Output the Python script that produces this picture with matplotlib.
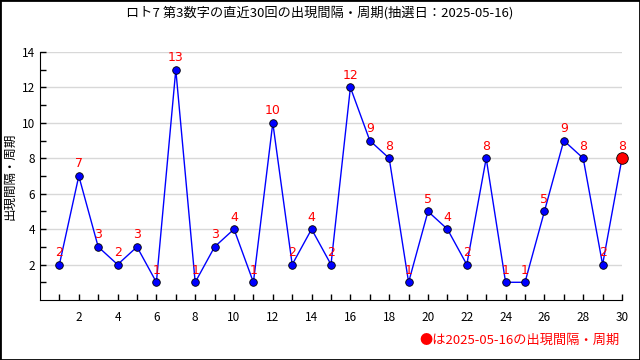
import matplotlib
matplotlib.use('Agg')
import matplotlib.pyplot as plt
from matplotlib.patches import Rectangle

plt.rcParams['font.family'] = ['Noto Sans CJK JP', 'DejaVu Sans']

draws = list(range(1, 31))
intervals = [2, 7, 3, 2, 3, 1, 13, 1, 3, 4, 1, 10, 2, 4, 2, 12, 9, 8, 1, 5,
             4, 2, 8, 1, 1, 5, 9, 8, 2, 8]
title = 'ロト7 第3数字の直近30回の出現間隔・周期(抽選日：2025-05-16)'
ylabel = '出現間隔・周期'
legend_text = '●は2025-05-16の出現間隔・周期'

fig = plt.figure(figsize=(6.4, 3.6), dpi=100)
ax = fig.add_axes([40 / 640, 1 - 300 / 360, 582 / 640, 248 / 360])

ax.plot(draws, intervals, color='#0000ff', linewidth=1, zorder=2)
ax.scatter(draws[:-1], intervals[:-1], s=30, color='#0000ff',
           edgecolor='black', linewidth=0.6, zorder=3)
ax.scatter(draws[-1:], intervals[-1:], s=70, color='#ff0000',
           edgecolor='black', linewidth=0.6, zorder=4, clip_on=False)
for x, y in zip(draws, intervals):
    ax.annotate(str(y), (x, y), xytext=(0, 4), textcoords='offset points',
                ha='center', va='bottom', color='#ff0000', fontsize=9,
                family='DejaVu Sans')

ax.set_xlim(0, 30)
ax.set_ylim(0, 14)
ax.set_xticks(range(1, 31), minor=True)
ax.set_xticks(range(2, 31, 2))
ax.set_yticks(range(2, 15, 2))
ax.set_yticks(range(1, 15, 2), minor=True)
ax.tick_params(which='both', direction='in', labelsize=8.5, length=4, width=1)
ax.tick_params(axis='x', pad=8)
ax.grid(axis='y', color='#d8d8d8', linewidth=1, zorder=0)
ax.spines['top'].set_visible(False)
ax.spines['right'].set_visible(False)
ax.set_ylabel(ylabel, fontsize=9, labelpad=4)

fig.text(0.5, 1 - 13 / 360, title, ha='center', va='center', fontsize=9.5)
fig.text(620 / 640, 1 - 340 / 360, legend_text, ha='right', va='center',
         fontsize=9.5, color='#ff0000')
fig.patches.append(Rectangle((0, 0), 1, 1, transform=fig.transFigure,
                             fill=False, edgecolor='black', linewidth=2))

fig.savefig('out.png', dpi=100)
